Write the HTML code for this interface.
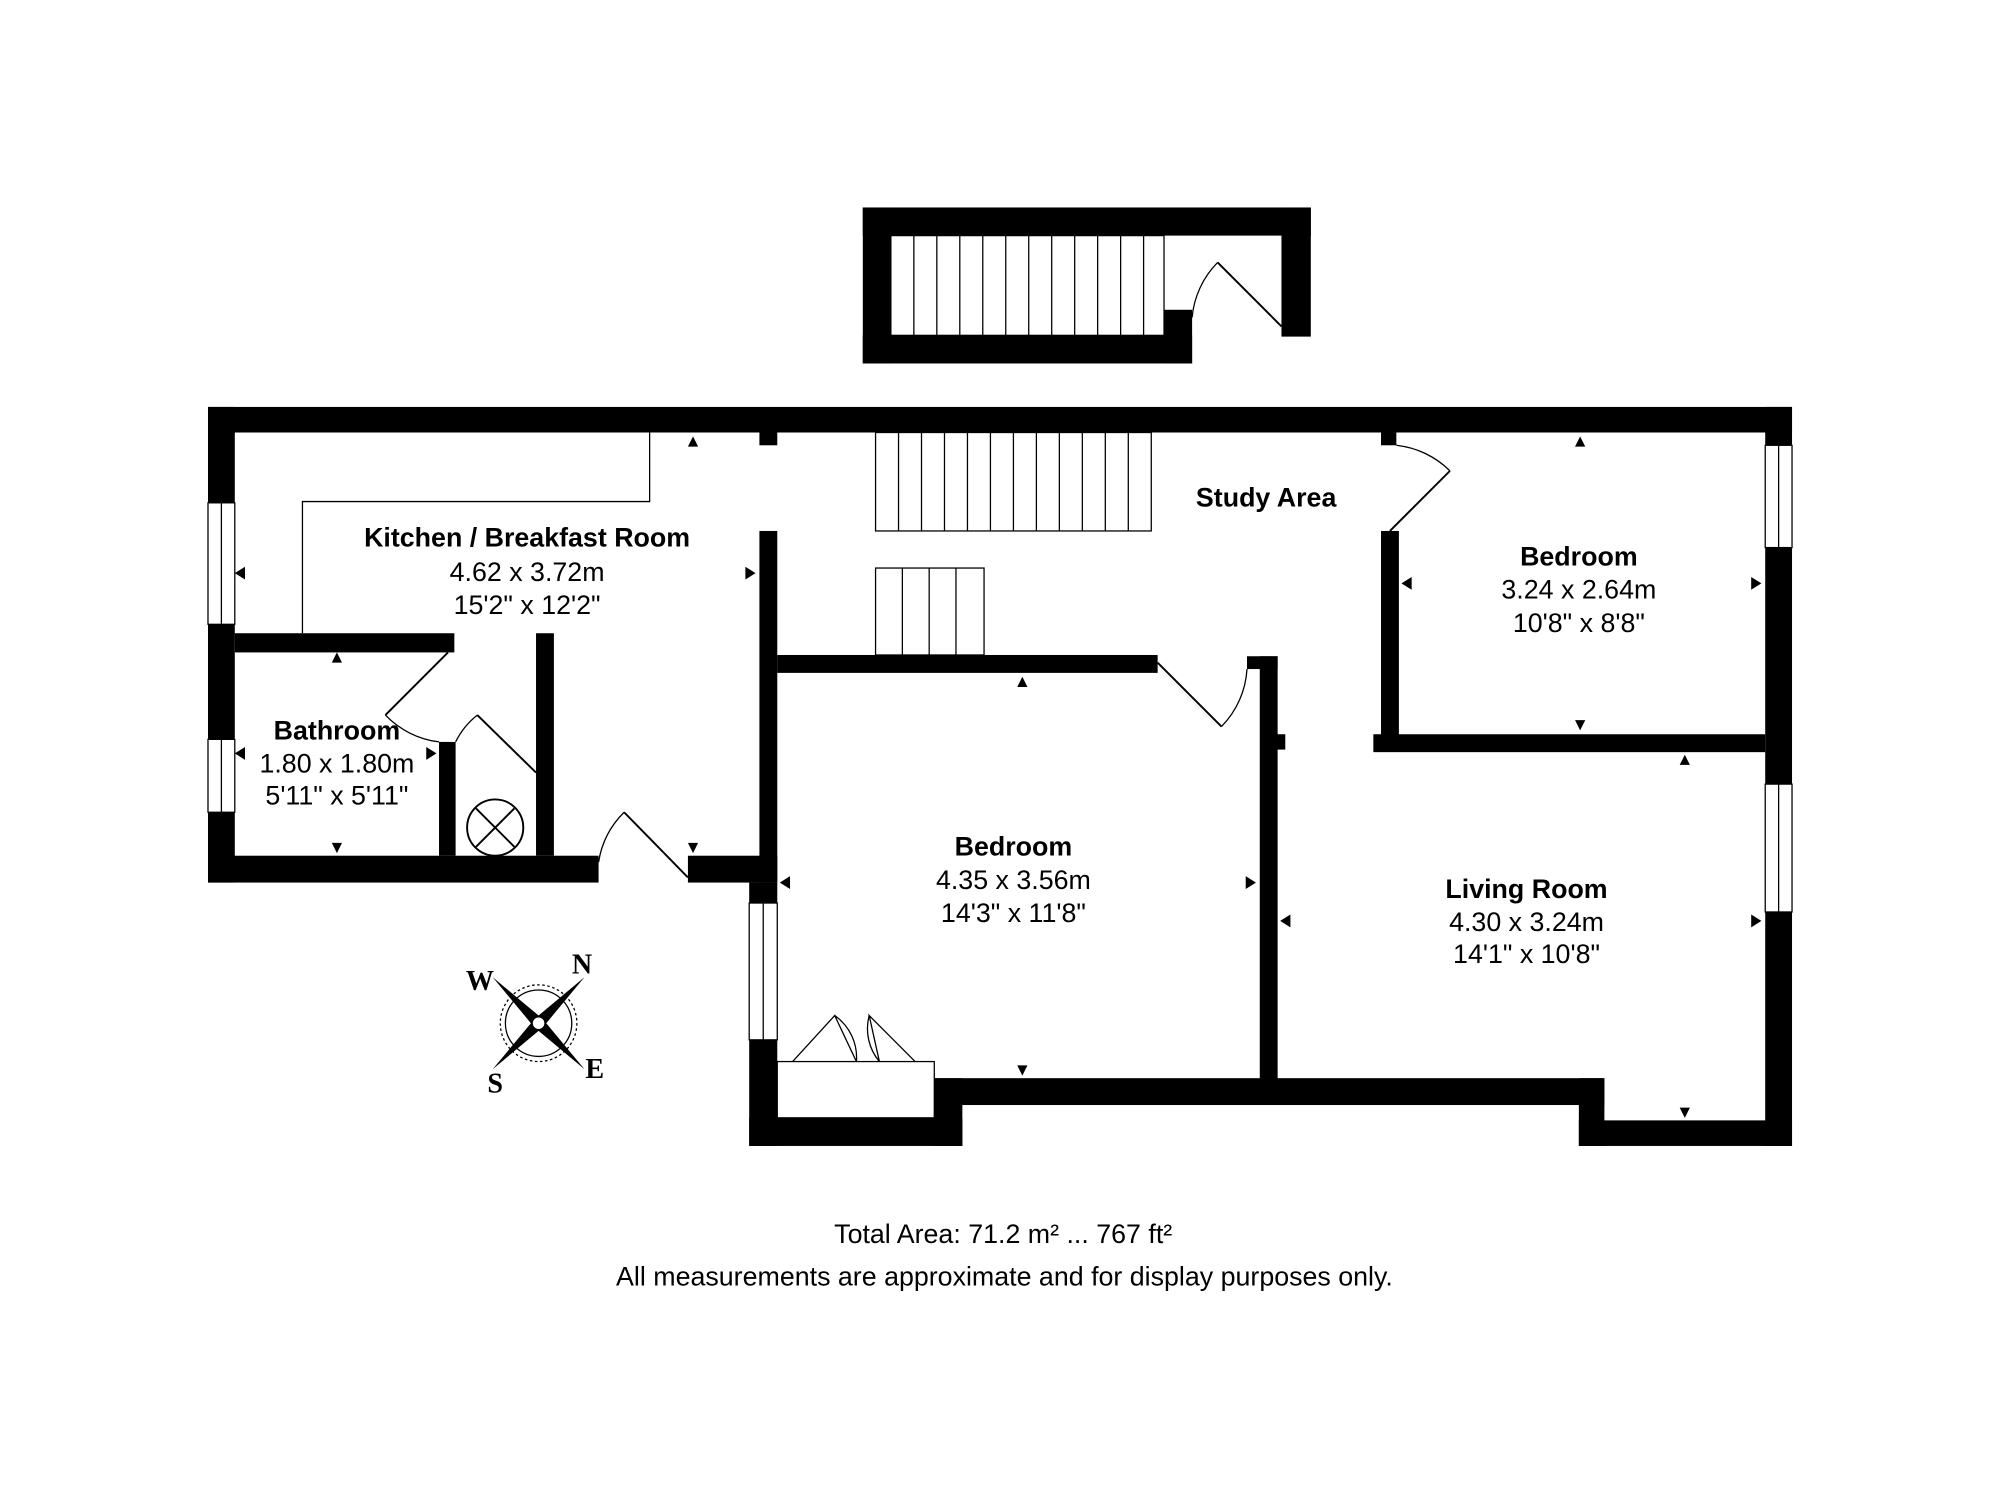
<!DOCTYPE html>
<html><head><meta charset="utf-8">
<style>
html,body{margin:0;padding:0;background:#fff;}
svg{display:block;}
text{font-family:"Liberation Sans",Arial,sans-serif;fill:#000;}
</style></head>
<body>
<svg width="2000" height="1510" viewBox="0 0 1552 1164" preserveAspectRatio="none" xmlns="http://www.w3.org/2000/svg">
<rect width="1552" height="1164" fill="#fff"/>
<g transform="matrix(0.9905 0 0 0.9856 -1.04 -1.7)">
<!-- top stair box -->
<g fill="#000">
<rect x="677" y="164" width="351" height="22"/>
<rect x="677" y="164" width="22" height="122"/>
<rect x="677" y="264" width="258" height="22"/>
<rect x="913" y="244" width="22" height="42"/>
<rect x="1005" y="164" width="23" height="101"/>
</g>
<rect x="699" y="186" width="214" height="78" fill="#fff" stroke="#000" stroke-width="1"/>
<g stroke="#000" stroke-width="1">
<line x1="717" y1="186" x2="717" y2="264"/><line x1="735" y1="186" x2="735" y2="264"/><line x1="753" y1="186" x2="753" y2="264"/><line x1="771" y1="186" x2="771" y2="264"/><line x1="789" y1="186" x2="789" y2="264"/><line x1="807" y1="186" x2="807" y2="264"/><line x1="825" y1="186" x2="825" y2="264"/><line x1="843" y1="186" x2="843" y2="264"/><line x1="861" y1="186" x2="861" y2="264"/><line x1="879" y1="186" x2="879" y2="264"/><line x1="897" y1="186" x2="897" y2="264"/>
</g>
<g stroke="#000" stroke-width="1.5" fill="none">
<line x1="955" y1="207" x2="1005" y2="257"/>
<path d="M935 250 A70 70 0 0 1 955 207" stroke-width="1"/>
</g>

<!-- main walls -->
<g fill="#000">
<rect x="164" y="320" width="1241" height="20"/>
<rect x="164" y="320" width="21" height="372"/>
<rect x="164" y="671" width="306" height="21"/>
<rect x="540" y="671" width="70" height="21"/>
<rect x="1384" y="320" width="21" height="578"/>
<rect x="596" y="417" width="14" height="275"/>
<rect x="588" y="692" width="22" height="206"/>
<rect x="588" y="876" width="167" height="22"/>
<rect x="733" y="845" width="525" height="21"/>
<rect x="733" y="845" width="22" height="53"/>
<rect x="1238" y="845" width="20" height="53"/>
<rect x="1238" y="878" width="167" height="20"/>
<rect x="610" y="514" width="298" height="14"/>
<rect x="988" y="515" width="14" height="337"/>
<rect x="978" y="515" width="24" height="10"/>
<rect x="1000" y="576" width="8" height="12"/>
<rect x="1083" y="417" width="14" height="168"/>
<rect x="1083" y="340" width="12" height="10"/>
<rect x="1077" y="576" width="307" height="14"/>
<rect x="185" y="497" width="172" height="15"/>
<rect x="345" y="582" width="13" height="89"/>
<rect x="421" y="497" width="14" height="174"/>
<rect x="596" y="340" width="14" height="10"/>
</g>
<!-- windows -->
<g fill="#fff" stroke="#000" stroke-width="1">
<rect x="164" y="395" width="21" height="95"/><line x1="174.5" y1="395" x2="174.5" y2="490"/>
<rect x="164" y="580" width="21" height="57"/><line x1="174.5" y1="580" x2="174.5" y2="637"/>
<rect x="1384" y="350" width="21" height="80"/><line x1="1394.5" y1="350" x2="1394.5" y2="430"/>
<rect x="1384" y="615" width="21" height="100"/><line x1="1394.5" y1="615" x2="1394.5" y2="715"/>
<rect x="588" y="708" width="22" height="107"/><line x1="599" y1="708" x2="599" y2="815"/>
<rect x="610" y="832" width="123" height="44"/>
</g>
<!-- stairs main -->
<rect x="687" y="340" width="216" height="77" fill="#fff" stroke="#000" stroke-width="1"/>
<g stroke="#000" stroke-width="1">
<line x1="705" y1="340" x2="705" y2="417"/><line x1="723" y1="340" x2="723" y2="417"/><line x1="741" y1="340" x2="741" y2="417"/><line x1="759" y1="340" x2="759" y2="417"/><line x1="777" y1="340" x2="777" y2="417"/><line x1="795" y1="340" x2="795" y2="417"/><line x1="813" y1="340" x2="813" y2="417"/><line x1="831" y1="340" x2="831" y2="417"/><line x1="849" y1="340" x2="849" y2="417"/><line x1="867" y1="340" x2="867" y2="417"/><line x1="885" y1="340" x2="885" y2="417"/>
</g>
<rect x="687" y="446" width="85" height="68" fill="#fff" stroke="#000" stroke-width="1"/>
<g stroke="#000" stroke-width="1">
<line x1="708" y1="446" x2="708" y2="514"/><line x1="729" y1="446" x2="729" y2="514"/><line x1="750" y1="446" x2="750" y2="514"/>
</g>
<!-- counter -->
<path d="M510 340 V394 H238 V497" fill="none" stroke="#000" stroke-width="1"/>
<!-- doors -->
<g stroke="#000" fill="none">
<line x1="540" y1="688" x2="490" y2="637" stroke-width="1.5"/><path d="M490 637 A70 70 0 0 0 470 676" stroke-width="1"/>
<line x1="908" y1="520" x2="958" y2="570" stroke-width="1.5"/><path d="M958 570 A70 70 0 0 0 978 525" stroke-width="1"/>
<line x1="1090" y1="417" x2="1137" y2="370" stroke-width="1.5"/><path d="M1137 370 A70 70 0 0 0 1095 350" stroke-width="1"/>
<line x1="352" y1="512" x2="303" y2="561" stroke-width="1.5"/><path d="M303 561 A70 70 0 0 0 345 582" stroke-width="1"/>
<line x1="375" y1="561" x2="421" y2="606" stroke-width="1.5"/><path d="M375 561 A60 60 0 0 0 358 582" stroke-width="1"/>
<path d="M622 832 L655 796 L672 832 M690 832 L682 796 L718 832" stroke-width="1"/>
<path d="M655 796 A40 40 0 0 1 672 832 M682 796 A40 40 0 0 0 690 832" stroke-width="1"/>
</g>
<!-- extractor fan -->
<circle cx="389" cy="649" r="22" fill="#fff" stroke="#000" stroke-width="1.5"/>
<path d="M374 634 L404 664 M404 634 L374 664" stroke="#000" stroke-width="1.5"/>
<!-- measurement arrows -->
<g fill="#000">
<path d="M540 351 L548 351 L544 343Z"/><path d="M585 445 L585 455 L593 450Z"/>
<path d="M193 445 L193 455 L185 450Z"/><path d="M261 520 L269 520 L265 512Z"/>
<path d="M261 661 L269 661 L265 669Z"/><path d="M193 586 L193 596 L185 591Z"/>
<path d="M335 586 L335 596 L343 591Z"/><path d="M540 661 L548 661 L544 669Z"/>
<path d="M798 539 L806 539 L802 531Z"/><path d="M798 835 L806 835 L802 843Z"/>
<path d="M620 687 L620 697 L612 692Z"/><path d="M977 687 L977 697 L985 692Z"/>
<path d="M1235 351 L1243 351 L1239 343Z"/><path d="M1235 565 L1243 565 L1239 573Z"/>
<path d="M1107 453 L1107 463 L1099 458Z"/><path d="M1373 453 L1373 463 L1381 458Z"/>
<path d="M1317 600 L1325 600 L1321 592Z"/><path d="M1317 868 L1325 868 L1321 876Z"/>
<path d="M1012 717 L1012 727 L1004 722Z"/><path d="M1373 717 L1373 727 L1381 722Z"/>
</g>
<!-- labels -->
<g text-anchor="middle" font-size="21">
<text x="993" y="398" font-weight="bold">Study Area</text>
<text x="414" y="429" font-weight="bold">Kitchen / Breakfast Room</text>
<text x="414" y="456">4.62 x 3.72m</text>
<text x="414" y="482">15'2" x 12'2"</text>
<text x="265" y="580" font-weight="bold">Bathroom</text>
<text x="265" y="606">1.80 x 1.80m</text>
<text x="265" y="631">5'11" x 5'11"</text>
<text x="1238" y="444" font-weight="bold">Bedroom</text>
<text x="1238" y="470">3.24 x 2.64m</text>
<text x="1238" y="496">10'8" x 8'8"</text>
<text x="795" y="671" font-weight="bold">Bedroom</text>
<text x="795" y="697">4.35 x 3.56m</text>
<text x="795" y="723">14'3" x 11'8"</text>
<text x="1197" y="704" font-weight="bold">Living Room</text>
<text x="1197" y="730">4.30 x 3.24m</text>
<text x="1197" y="755">14'1" x 10'8"</text>
<text x="787" y="974">Total Area: 71.2 m² ... 767 ft²</text>
<text x="788" y="1007">All measurements are approximate and for display purposes only.</text>
</g>
<!-- compass -->
<g transform="translate(423,802)">
<circle r="30" fill="none" stroke="#000" stroke-width="1" stroke-dasharray="2 2"/>
<circle r="26" fill="none" stroke="#000" stroke-width="1"/>
<path d="M0 -6 L36 -36 L6 0 L36 36 L0 6 L-36 36 L-6 0 L-36 -36Z" fill="#000"/>
<circle r="5" fill="#fff" stroke="#000"/>
<g font-weight="bold" font-size="22" text-anchor="middle">
<text x="34" y="-39" style="font-family:'Liberation Serif',serif">N</text>
<text x="-46" y="-26" style="font-family:'Liberation Serif',serif">W</text>
<text x="-34" y="54" style="font-family:'Liberation Serif',serif">S</text>
<text x="44" y="43" style="font-family:'Liberation Serif',serif">E</text>
</g>
</g>
</g>
</svg>
</body></html>
